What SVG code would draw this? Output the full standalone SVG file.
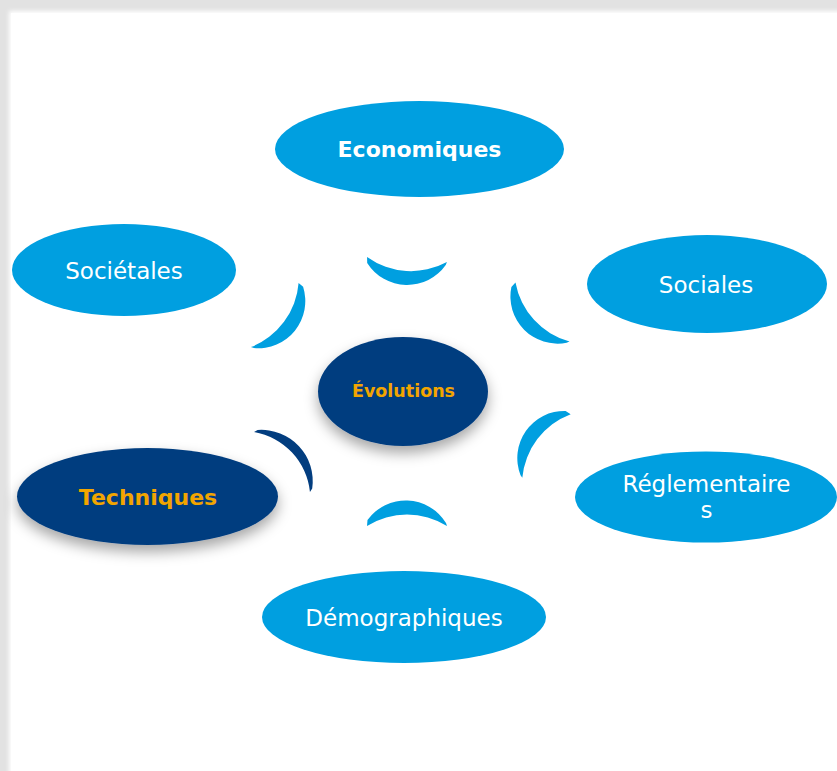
<svg xmlns="http://www.w3.org/2000/svg" width="837" height="771" viewBox="0 0 837 771">
<defs>
<style>
.lt{fill:#009fe0}
.dk{fill:#023d7f}
.t{font-family:"DejaVu Sans",Verdana,sans-serif;text-anchor:middle;fill:#ffffff;font-size:23px}
.b{font-weight:bold;font-size:22px}
.o{fill:#f2a500}
</style>
<path id="cl" d="M-40,0 A75.3,75.3 0 0 0 40,0 L39,3 A47.2,47.2 0 0 1 -39.5,6 Z"/>
<path id="cd" d="M-41,0 A68,68 0 0 0 41,0 L40,4 A51.25,51.25 0 0 1 -40,4 Z"/>
<filter id="sh" x="-30%" y="-30%" width="160%" height="170%">
<feDropShadow dx="0" dy="7" stdDeviation="7" flood-color="#000" flood-opacity="0.35"/>
</filter>
<filter id="fr" x="-5%" y="-5%" width="110%" height="110%">
<feGaussianBlur stdDeviation="2"/>
</filter>
</defs>
<rect x="0" y="0" width="837" height="771" fill="#e2e2e2"/>
<rect x="9" y="11" width="840" height="780" fill="#ffffff" filter="url(#fr)"/>
<rect x="11" y="13" width="830" height="770" fill="#ffffff"/>

<g id="connectors">
<use href="#cl" class="lt" transform="translate(407,259.5) rotate(3.6)"/>
<use href="#cl" class="lt" transform="translate(407,526) rotate(180) scale(-1,1)"/>
<use href="#cl" class="lt" transform="translate(274.75,315) rotate(-53.4) scale(-1,1)"/>
<use href="#cl" class="lt" transform="translate(542.5,312) rotate(47.5)"/>
<use href="#cl" class="lt" transform="translate(546.5,446) rotate(127.2)"/>
<use href="#cd" class="dk" transform="translate(282,462) rotate(-133)"/>
</g>

<g id="economiques">
<ellipse class="lt" cx="419.5" cy="149" rx="144.5" ry="48"/>
<text class="t b" x="419.5" y="157">Economiques</text>
</g>
<g id="societales">
<ellipse cx="124" cy="270" rx="113" ry="47" fill="#ffffff"/>
<ellipse class="lt" cx="124" cy="270" rx="112" ry="46"/>
<text class="t" x="124" y="279">Sociétales</text>
</g>
<g id="sociales">
<ellipse class="lt" cx="707" cy="284" rx="120" ry="49"/>
<text class="t" x="706" y="293">Sociales</text>
</g>
<g id="evolutions">
<ellipse class="dk" cx="403" cy="391.5" rx="85" ry="54.5" filter="url(#sh)"/>
<text class="t b o" x="403.5" y="397" style="font-size:17.5px">Évolutions</text>
</g>
<g id="techniques">
<ellipse class="dk" cx="147.5" cy="496.5" rx="130.5" ry="48.5" filter="url(#sh)"/>
<text class="t b o" x="148" y="505">Techniques</text>
</g>
<g id="reglementaires">
<ellipse class="lt" cx="706" cy="497" rx="131" ry="45.5"/>
<text class="t" x="706.5" y="492">Réglementaire</text>
<text class="t" x="706.5" y="518">s</text>
</g>
<g id="demographiques">
<ellipse class="lt" cx="404" cy="617" rx="142" ry="46"/>
<text class="t" x="404" y="626">Démographiques</text>
</g>
</svg>
